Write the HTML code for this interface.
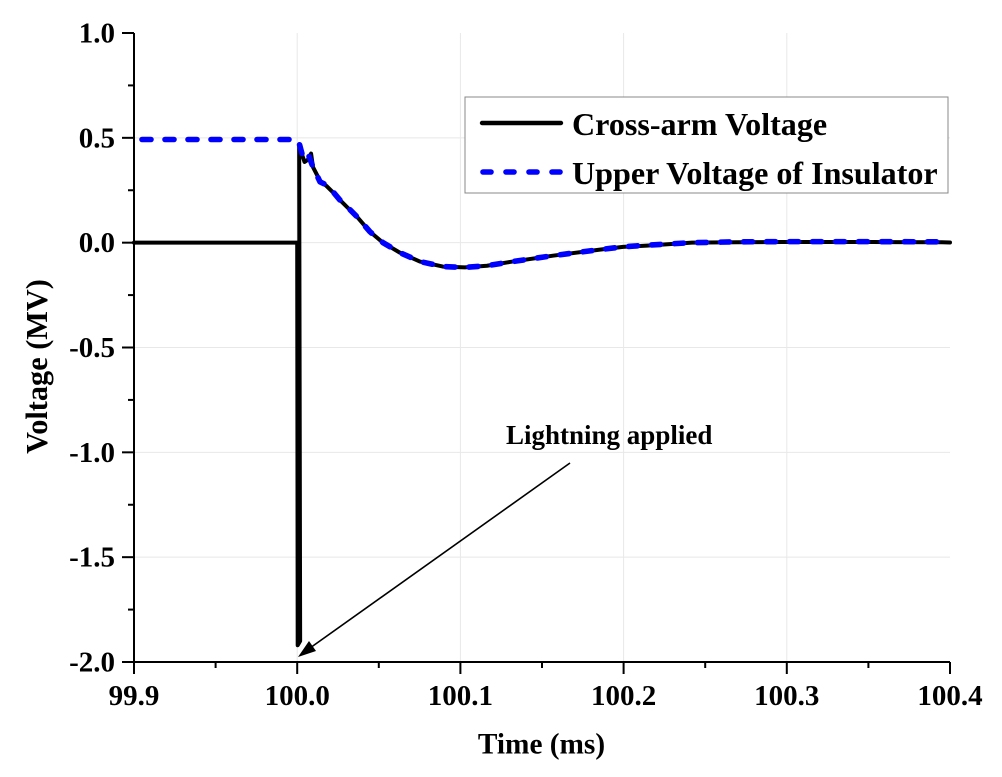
<!DOCTYPE html>
<html>
<head>
<meta charset="utf-8">
<style>
html,body{margin:0;padding:0;background:#fff;}
svg{display:block;}
text{font-family:"Liberation Serif",serif;font-weight:bold;fill:#000;}
</style>
</head>
<body>
<svg id="chart" width="1002" height="777" viewBox="0 0 1002 777" xmlns="http://www.w3.org/2000/svg"></svg>
<script>
const xTicks = [99.9, 100.0, 100.1, 100.2, 100.3, 100.4];
const xTickLabels = ['99.9', '100.0', '100.1', '100.2', '100.3', '100.4'];
const xMinorTicks = [99.95, 100.05, 100.15, 100.25, 100.35];
const yTicks = [1.0, 0.5, 0.0, -0.5, -1.0, -1.5, -2.0];
const yTickLabels = ['1.0', '0.5', '0.0', '-0.5', '-1.0', '-1.5', '-2.0'];
const yMinorTicks = [0.75, 0.25, -0.25, -0.75, -1.25, -1.75];

const crossArmTime = [99.9, 100.0, 100.0003, 100.0018, 100.0012, 100.0045, 100.0065, 100.0085, 100.0097, 100.014, 100.018, 100.0219, 100.026, 100.0305, 100.0366, 100.0446, 100.0526, 100.063, 100.0752, 100.0893, 100.1028, 100.1163, 100.1304, 100.1567, 100.1855, 100.1996, 100.2143, 100.2419, 100.2695, 100.2977, 100.3528, 100.395, 100.4];
const crossArmVoltage = [0, 0, -1.92, -1.9, 0.46, 0.385, 0.395, 0.425, 0.36, 0.295, 0.27, 0.24, 0.205, 0.17, 0.124, 0.052, 0, -0.048, -0.09, -0.114, -0.118, -0.11, -0.092, -0.062, -0.033, -0.02, -0.014, 0, 0.002, 0.003, 0.003, 0.002, 0.001];

const insulatorTime = [99.9, 100.0, 100.0011, 100.0036, 100.0066, 100.0097, 100.014, 100.018, 100.0219, 100.026, 100.0305, 100.0366, 100.0446, 100.0526, 100.063, 100.0752, 100.0893, 100.1028, 100.1163, 100.1304, 100.1567, 100.1855, 100.1996, 100.2143, 100.2419, 100.2695, 100.2977, 100.3528, 100.395, 100.4];
const insulatorVoltage = [0.492, 0.492, 0.477, 0.405, 0.425, 0.36, 0.29, 0.275, 0.243, 0.205, 0.172, 0.124, 0.052, 0, -0.048, -0.09, -0.114, -0.118, -0.11, -0.092, -0.062, -0.033, -0.02, -0.012, 0, 0.004, 0.005, 0.005, 0.004, 0.004];

const svgNS = 'http://www.w3.org/2000/svg';
const svg = document.getElementById('chart');
const plotLeft = 134, plotRight = 950, plotTop = 33, plotBottom = 662;
function xScale(t) { return plotLeft + (t - 99.9) / 0.5 * (plotRight - plotLeft); }
function yScale(v) { return plotBottom - (v + 2) / 3 * (plotBottom - plotTop); }
function make(tag, attrs, parent) {
  const el = document.createElementNS(svgNS, tag);
  for (const k in attrs) el.setAttribute(k, attrs[k]);
  (parent || svg).appendChild(el);
  return el;
}
function pathOf(ts, vs) {
  return ts.map((t, i) => (i ? 'L' : 'M') + xScale(t).toFixed(2) + ' ' + yScale(vs[i]).toFixed(2)).join(' ');
}

// gridlines
xTicks.slice(1, -1).forEach(t => {
  const el = make('line', {x1: xScale(t), x2: xScale(t), y1: plotTop, y2: plotBottom, stroke: '#e8e8e8', 'stroke-width': 1});
  
  
});
yTicks.slice(1, -1).forEach(v => {
  const el = make('line', {x1: plotLeft, x2: plotRight, y1: yScale(v), y2: yScale(v), stroke: '#e8e8e8', 'stroke-width': 1});
  
  
});

// series
const crossLine = make('path', {d: pathOf(crossArmTime, crossArmVoltage), fill: 'none', stroke: '#000', 'stroke-width': 4, 'stroke-linejoin': 'round', 'stroke-linecap': 'round'});


const insulatorLine = make('path', {d: pathOf(insulatorTime, insulatorVoltage), fill: 'none', stroke: '#0000ff', 'stroke-width': 5.6, 'stroke-linejoin': 'round', 'stroke-linecap': 'round', 'stroke-dasharray': '9 14', 'stroke-dashoffset': 15});



// axes
const xAxis = make('line', {x1: plotLeft - 12, x2: plotRight, y1: plotBottom, y2: plotBottom, stroke: '#000', 'stroke-width': 2});


const yAxis = make('line', {x1: plotLeft, x2: plotLeft, y1: plotTop, y2: plotBottom + 12, stroke: '#000', 'stroke-width': 2});



xTicks.forEach((t, i) => {
  const tick = make('line', {x1: xScale(t), x2: xScale(t), y1: plotBottom, y2: plotBottom + 12, stroke: '#000', 'stroke-width': 2});
  
  
  const label = make('text', {x: xScale(t), y: 705, 'text-anchor': 'middle', 'font-size': 29});
  label.textContent = xTickLabels[i];
  
  
});
xMinorTicks.forEach(t => {
  const tick = make('line', {x1: xScale(t), x2: xScale(t), y1: plotBottom, y2: plotBottom + 6, stroke: '#000', 'stroke-width': 2});
  
  
});
yTicks.forEach((v, i) => {
  const tick = make('line', {x1: plotLeft - 12, x2: plotLeft, y1: yScale(v), y2: yScale(v), stroke: '#000', 'stroke-width': 2});
  
  
  const label = make('text', {x: 115, y: yScale(v) + 9.5, 'text-anchor': 'end', 'font-size': 29});
  label.textContent = yTickLabels[i];
  
  
});
yMinorTicks.forEach(v => {
  const tick = make('line', {x1: plotLeft - 6, x2: plotLeft, y1: yScale(v), y2: yScale(v), stroke: '#000', 'stroke-width': 2});
  
  
});

// axis titles
const xTitle = make('text', {x: 541.5, y: 753.5, 'text-anchor': 'middle', 'font-size': 29.3});
xTitle.textContent = 'Time (ms)';


const yTitle = make('text', {x: 0, y: 0, 'text-anchor': 'middle', 'font-size': 30.3, transform: 'translate(47 366.5) rotate(-90)'});
yTitle.textContent = 'Voltage (MV)';



// annotation
const note = make('text', {x: 506, y: 444, 'font-size': 27});
note.textContent = 'Lightning applied';


const arrowLine = make('line', {x1: 570, y1: 463, x2: 310, y2: 648, stroke: '#000', 'stroke-width': 1.6});


const arrowHead = make('polygon', {points: '298,657 309,641 316,651', fill: '#000'});



// legend
const legendBox = make('rect', {x: 465, y: 97, width: 483, height: 96, fill: '#fff', stroke: '#888', 'stroke-width': 1});


const legendLine1 = make('line', {x1: 482, x2: 561, y1: 123, y2: 123, stroke: '#000', 'stroke-width': 4.4, 'stroke-linecap': 'round'});


const legendText1 = make('text', {x: 572, y: 135, 'font-size': 32.1});
legendText1.textContent = 'Cross-arm Voltage';


const legendLine2 = make('line', {x1: 483, x2: 561, y1: 172, y2: 172, stroke: '#0000ff', 'stroke-width': 5.6, 'stroke-linecap': 'round', 'stroke-dasharray': '8 15'});


const legendText2 = make('text', {x: 572, y: 184, 'font-size': 32.1});
legendText2.textContent = 'Upper Voltage of Insulator';


</script>
</body>
</html>
